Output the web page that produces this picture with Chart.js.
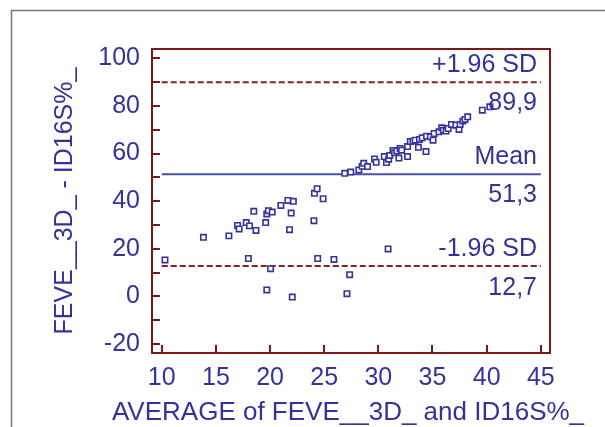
<!DOCTYPE html>
<html>
<head>
<meta charset="utf-8">
<script src="https://cdn.jsdelivr.net/npm/chart.js@4"></script>
<style>
    body { margin: 0; background: #fff; }
</style>
</head>
<body>
<canvas id="bland" width="605" height="427"></canvas>
<script>
// Bland-Altman : FEVE__3D_ vs ID16S%_

var moyennes = [10.3, 13.85, 16.2, 17.0, 17.15, 17.8, 18.1, 18.7, 18.5, 18.0, 19.6, 19.7, 19.85, 20.2, 19.7, 20.05,
    21.0, 21.65, 22.15, 21.95, 21.8, 22.05, 24.05, 24.1, 24.35, 24.9, 24.4, 25.9, 27.1, 27.35, 30.9,
    26.9, 27.45, 28.2, 28.5, 28.65, 29.0, 29.65, 29.8, 30.55, 30.75, 30.95, 31.05, 31.35, 31.5, 31.7, 31.9,
    32.0, 32.15, 32.7, 32.7, 32.95, 33.2, 33.4, 33.7, 33.8, 34.05, 34.4, 34.45, 34.8, 35.05, 35.15, 35.6,
    35.85, 36.0, 36.25, 36.45, 36.75, 37.15, 37.45, 37.55, 37.8, 38.0, 38.25, 39.6, 40.3];
var differences = [15.3, 24.8, 25.4, 29.8, 28.3, 31.0, 29.6, 27.7, 35.7, 15.9, 31.0, 34.6, 36.0, 35.4, 2.7, 11.6,
    38.2, 40.3, 39.9, 35.0, 28.0, -0.3, 31.8, 43.3, 45.2, 41.0, 15.9, 15.5, 1.1, 9.1, 19.9,
    51.7, 52.2, 53.1, 54.6, 55.9, 54.5, 57.7, 56.3, 58.7, 56.2, 57.6, 59.2, 61.3, 60.3, 61.1, 58.1,
    62.1, 61.4, 58.7, 62.9, 65.0, 65.2, 65.6, 62.6, 65.9, 66.6, 60.8, 67.3, 67.0, 65.6, 68.4, 69.1,
    70.8, 69.8, 69.4, 70.5, 72.2, 71.9, 70.1, 72.2, 73.6, 74.3, 75.4, 78.2, 79.6];

var moyenneDiff = 51.3;
var limiteHaute = 89.9;
var limiteBasse = 12.7;
var xLigne = [10, 45];
var titreX = "AVERAGE of FEVE__3D_ and ID16S%_";
var titreY = "FEVE__3D_ - ID16S%_";

var bleu = "#333399";
var rouge = "#7d1818";
var police = "'Liberation Sans', Arial, sans-serif";

var points = [];
for (var i = 0; i < moyennes.length; i++) {
    points.push({ x: moyennes[i], y: differences[i] });
}

function ligne(v) {
    return [{ x: xLigne[0], y: v }, { x: xLigne[1], y: v }];
}

function virgule(v) {
    return v.toFixed(1).replace(".", ",");
}

// cadre, graduations internes, textes des lignes, titre X (plus large que le graphe)
var cadre = {
    id: "cadre",
    beforeDraw: function (chart) {
        var ctx = chart.ctx;
        ctx.save();
        ctx.strokeStyle = "#777";
        ctx.lineWidth = 1.5;
        ctx.beginPath();
        ctx.moveTo(11.5, 427);
        ctx.lineTo(11.5, 10.5);
        ctx.lineTo(605, 10.5);
        ctx.stroke();
        ctx.restore();
    },
    afterDraw: function (chart) {
        var ctx = chart.ctx;
        var a = chart.chartArea;
        var sx = chart.scales.x;
        var sy = chart.scales.y;
        ctx.save();
        ctx.strokeStyle = rouge;
        ctx.lineWidth = 2;
        ctx.strokeRect(a.left, a.top, a.right - a.left, a.bottom - a.top);
        ctx.beginPath();
        sy.ticks.forEach(function (t) {
            var py = Math.round(sy.getPixelForValue(t.value));
            ctx.moveTo(a.left, py);
            ctx.lineTo(a.left + 8, py);
        });
        sx.ticks.forEach(function (t) {
            var px = Math.round(sx.getPixelForValue(t.value));
            ctx.moveTo(px, a.bottom);
            ctx.lineTo(px, a.bottom - 8);
        });
        ctx.stroke();

        ctx.fillStyle = bleu;
        ctx.font = "25px " + police;
        ctx.textAlign = "right";
        ctx.textBaseline = "middle";
        var xr = a.right - 13;
        var textes = [
            ["+1.96 SD", limiteHaute, -17], [virgule(limiteHaute), limiteHaute, 21],
            ["Mean", moyenneDiff, -17], [virgule(moyenneDiff), moyenneDiff, 21],
            ["-1.96 SD", limiteBasse, -17], [virgule(limiteBasse), limiteBasse, 22]
        ];
        textes.forEach(function (t) {
            ctx.fillText(t[0], xr, sy.getPixelForValue(t[1]) + t[2]);
        });

        ctx.font = "26px " + police;
        ctx.textAlign = "center";
        ctx.fillText(titreX, 348, 413);
        ctx.restore();
    }
};

new Chart(document.getElementById("bland"), {
    type: "scatter",
    data: {
        datasets: [
            {
                label: "points",
                data: points,
                pointStyle: "rect",
                pointRadius: 3.8,
                pointBorderWidth: 1.6,
                pointBorderColor: bleu,
                pointBackgroundColor: "#fff"
            },
            {
                label: "Mean",
                type: "line",
                data: ligne(moyenneDiff),
                borderColor: "#4a52a8",
                borderWidth: 2,
                pointRadius: 0
            },
            {
                label: "+1.96 SD",
                type: "line",
                data: ligne(limiteHaute),
                borderColor: "#8b2020",
                borderWidth: 2,
                borderDash: [6, 3],
                pointRadius: 0
            },
            {
                label: "-1.96 SD",
                type: "line",
                data: ligne(limiteBasse),
                borderColor: "#8b2020",
                borderWidth: 2,
                borderDash: [6, 3],
                pointRadius: 0
            }
        ]
    },
    options: {
        responsive: false,
        animation: false,
        layout: { padding: { top: 49, right: 55, left: 0, bottom: 0 } },
        plugins: {
            legend: { display: false },
            tooltip: { enabled: false }
        },
        scales: {
            x: {
                type: "linear",
                min: 9.1,
                max: 45.85,
                afterFit: function (s) { s.height = 74; },
                afterBuildTicks: function (s) {
                    s.ticks = s.ticks.filter(function (t) { return Math.abs(t.value % 5) < 1e-6; });
                },
                ticks: {
                    stepSize: 5,
                    includeBounds: false,
                    color: bleu,
                    padding: 2,
                    maxRotation: 0,
                    autoSkip: false,
                    font: { family: police, size: 25 }
                },
                grid: { display: false },
                border: { display: false }
            },
            y: {
                type: "linear",
                min: -23.8,
                max: 103.9,
                afterFit: function (s) { s.width = 152; },
                afterBuildTicks: function (s) {
                    s.ticks = s.ticks.filter(function (t) { return Math.abs(t.value % 10) < 1e-6; });
                },
                ticks: {
                    stepSize: 10,
                    includeBounds: false,
                    color: bleu,
                    padding: 4,
                    autoSkip: false,
                    font: { family: police, size: 25 },
                    callback: function (v) { return Math.abs(v % 20) < 1e-6 ? v : ""; }
                },
                grid: { display: false },
                border: { display: false },
                title: {
                    display: true,
                    text: titreY,
                    color: bleu,
                    font: { family: police, size: 25, lineHeight: 1 },
                    padding: { top: 53, bottom: 0 }
                }
            }
        }
    },
    plugins: [cadre]
});
</script>
</body>
</html>
